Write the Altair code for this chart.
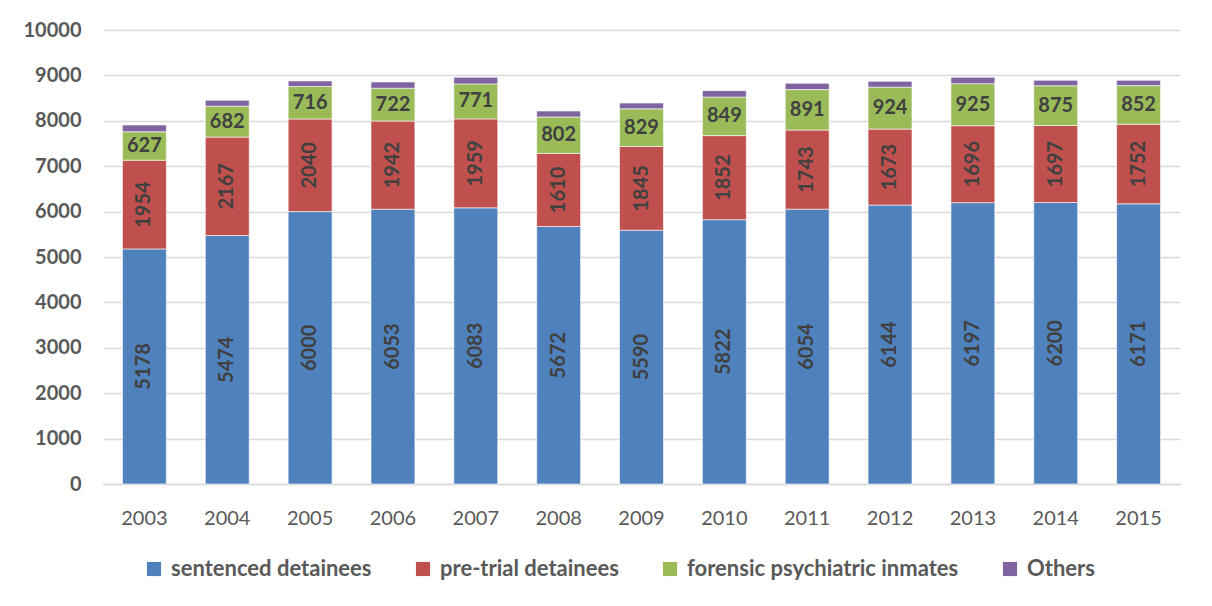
import altair as alt
import pandas as pd

years = ["2003", "2004", "2005", "2006", "2007", "2008", "2009",
         "2010", "2011", "2012", "2013", "2014", "2015"]
sentenced = [5178, 5474, 6000, 6053, 6083, 5672, 5590, 5822, 6054, 6144, 6197, 6200, 6171]
pretrial = [1954, 2167, 2040, 1942, 1959, 1610, 1845, 1852, 1743, 1673, 1696, 1697, 1752]
forensic = [627, 682, 716, 722, 771, 802, 829, 849, 891, 924, 925, 875, 852]
others = [148, 128, 121, 138, 145, 132, 128, 140, 138, 129, 140, 120, 117]

categories = ["sentenced detainees", "pre-trial detainees",
              "forensic psychiatric inmates", "Others"]
colors = ["#4f81bd", "#c0504d", "#9bbb59", "#8064a2"]

rows = []
for i, y in enumerate(years):
    for k, (cat, vals) in enumerate(zip(categories, [sentenced, pretrial, forensic, others])):
        rows.append({"year": y, "category": cat, "value": vals[i], "order": k})
df = pd.DataFrame(rows)

FONT = "Lato"
W, H = 1077, 454

bars = alt.Chart(df).mark_bar(stroke="white", strokeWidth=0.6).encode(
    x=alt.X("year:N", title=None,
            scale=alt.Scale(paddingInner=0.47, paddingOuter=0.235),
            axis=alt.Axis(labelAngle=0, ticks=False, grid=False, domainColor="#d9d9d9",
                          domainWidth=1.3, labelFont=FONT, labelFontSize=20,
                          labelColor="#595959", labelPadding=24)),
    y=alt.Y("value:Q", stack="zero", title=None,
            scale=alt.Scale(domain=[0, 10000], nice=False),
            axis=alt.Axis(values=list(range(0, 10001, 1000)), format="d",
                          domain=False, ticks=False,
                          gridColor="#d9d9d9", gridWidth=1.3, labelFont=FONT,
                          labelFontSize=20, labelFontWeight="bold",
                          labelColor="#595959", labelPadding=22)),
    color=alt.Color("category:N",
                    scale=alt.Scale(domain=categories, range=colors),
                    sort=categories,
                    legend=alt.Legend(title=None, orient="none", direction="horizontal",
                                      legendX=40, legendY=528,
                                      symbolType="square", symbolSize=200,
                                      symbolStrokeWidth=0, symbolOpacity=1,
                                      labelFont=FONT, labelFontSize=22,
                                      labelFontWeight="bold", labelColor="#595959",
                                      labelOffset=6, columnPadding=40,
                                      labelLimit=400)),
    order=alt.Order("order:Q"),
)

stacked = alt.Chart(df).transform_stack(
    stack="value", groupby=["year"], sort=[alt.SortField("order")], as_=["y0", "y1"]
).transform_calculate(mid="(datum.y0 + datum.y1) / 2")

vlabels = stacked.transform_filter(
    "datum.order <= 1"
).mark_text(angle=270, font=FONT, fontSize=20, fontWeight="bold",
            color="#404040", align="center", baseline="middle").encode(
    x=alt.X("year:N", title=None),
    y=alt.Y("mid:Q", title=None),
    text=alt.Text("value:Q"),
)

hlabels = stacked.transform_filter(
    "datum.order == 2"
).mark_text(font=FONT, fontSize=20, fontWeight="bold",
            color="#404040", align="center", baseline="middle").encode(
    x=alt.X("year:N", title=None),
    y=alt.Y("mid:Q", title=None),
    text=alt.Text("value:Q"),
)

chart = alt.layer(bars, vlabels, hlabels).properties(
    width=W, height=H,
    background="white",
    autosize=alt.AutoSizeParams(type="none"),
    padding={"left": 95, "top": 22, "right": 20, "bottom": 110},
).configure_view(stroke=None, strokeWidth=0)

chart.save("out.html", embed_options={"renderer": "svg", "actions": False})
